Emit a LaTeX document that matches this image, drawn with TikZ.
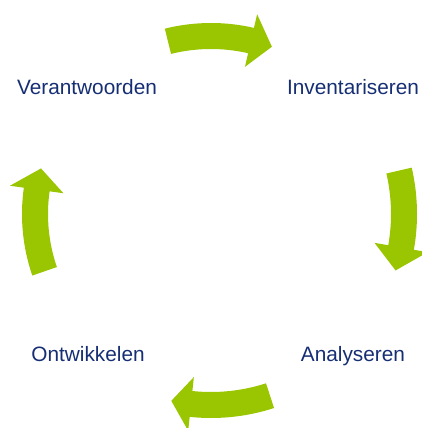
\documentclass[tikz,border=0pt]{standalone}
\usepackage{fontspec}
\setmainfont{Liberation Sans}
\usepackage{xcolor}
\definecolor{cyclegreen}{RGB}{153,198,0}
\definecolor{stepblue}{RGB}{22,46,115}
\tikzset{
    cycle-arrow/.style = {fill=cyclegreen},
    cycle-label/.style = {text=stepblue, font=\fontsize{20.8}{25}\selectfont, anchor=base, inner sep=0pt},
}
% #1 tail angle, #2 head base angle, #3 tip angle, #4 mid radius
\newcommand{\cyclearrow}[4]{%
    \fill[cycle-arrow, shift={(hub)}] (#1:#4-13) arc[start angle=#1, end angle=#2, radius=#4-13]
        -- (#2:#4-27) -- (#3:#4) -- (#2:#4+27) -- (#2:#4+13)
        arc[start angle=#2, end angle=#1, radius=#4+13] -- cycle;}

\begin{document}
\begin{tikzpicture}[x=1pt, y=1pt]
\useasboundingbox (0,0) rectangle (422,428);
\coordinate (hub) at (211,214);

\node[cycle-label] (verantwoorden) at (87,333) {Verantwoorden};
\node[cycle-label] (inventariseren) at (353,333) {Inventariseren};
\node[cycle-label] (analyseren) at (353,66.5) {Analyseren};
\node[cycle-label] (ontwikkelen) at (88,66.5) {Ontwikkelen};

\cyclearrow{104}{77}{70}{178}
\cyclearrow{13}{-10}{-17}{193}
\cyclearrow{-72}{-96}{-102}{191}
\cyclearrow{199}{172}{165}{176}
\end{tikzpicture}
\end{document}
